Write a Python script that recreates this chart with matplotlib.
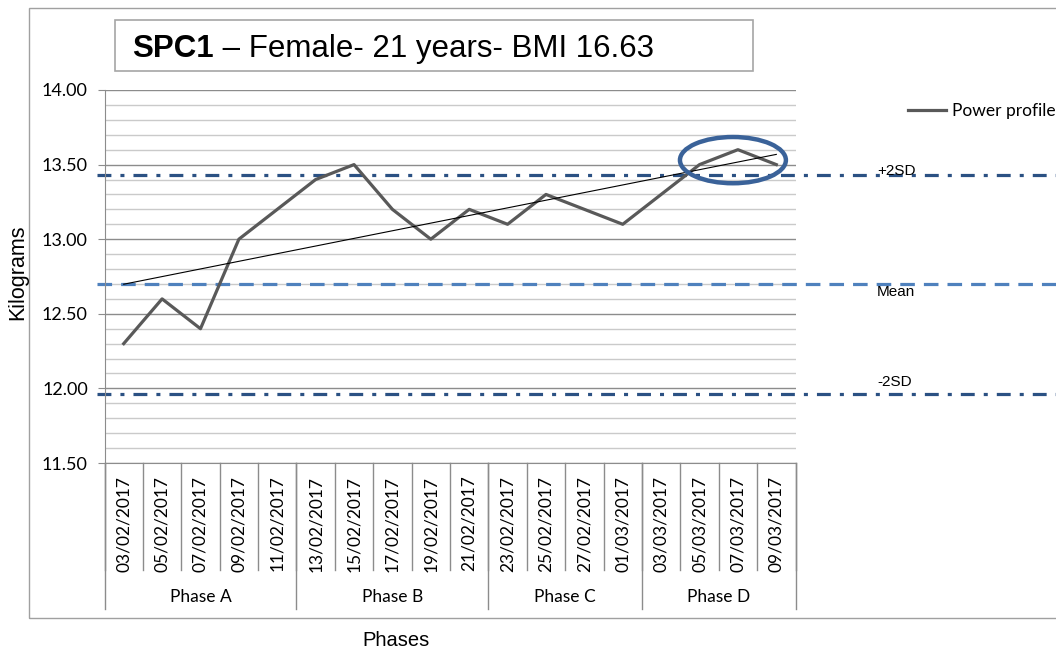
import matplotlib
matplotlib.use("Agg")
import matplotlib.pyplot as plt
import numpy as np
from matplotlib.patches import Rectangle, Ellipse
from matplotlib.lines import Line2D

# data
dates = ["03/02/2017", "05/02/2017", "07/02/2017", "09/02/2017", "11/02/2017",
         "13/02/2017", "15/02/2017", "17/02/2017", "19/02/2017", "21/02/2017",
         "23/02/2017", "25/02/2017", "27/02/2017", "01/03/2017",
         "03/03/2017", "05/03/2017", "07/03/2017", "09/03/2017"]
power = [12.3, 12.6, 12.4, 13.0, 13.2, 13.4, 13.5, 13.2, 13.0, 13.2,
         13.1, 13.3, 13.2, 13.1, 13.3, 13.5, 13.6, 13.5]
phases = ["Phase A", "Phase B", "Phase C", "Phase D"]
phase_sizes = [5, 5, 4, 4]
mean_kg = 12.70
upper_2sd = 13.43
lower_2sd = 11.96
# highlighted region (circled points at the end of phase D)
highlight_center = (15.87, 13.53)
highlight_size = (2.76, 0.31)

plt.rcParams['lines.scale_dashes'] = False
tick_font = 'Lato'
arial = 'Liberation Sans'

W, H = 1056, 654
fig = plt.figure(figsize=(W / 100, H / 100), dpi=100)

# outer chart border
fig.patches.append(Rectangle((29 / W, 1 - 618 / H), 1.2, (618 - 8) / H,
                             transform=fig.transFigure, fill=False,
                             edgecolor='#a0a0a0', linewidth=1.0))

ax_left, ax_right, ax_top, ax_bottom = 104.5, 795.5, 90, 463
ax = fig.add_axes([ax_left / W, 1 - ax_bottom / H,
                   (ax_right - ax_left) / W, (ax_bottom - ax_top) / H])

x = np.arange(len(power))
ax.set_xlim(-0.5, len(power) - 0.5)
ax.set_ylim(11.5, 14.0)

ax.set_yticks(np.arange(11.5, 14.01, 0.5))
ax.set_yticks(np.arange(11.5, 14.01, 0.1), minor=True)
ax.set_yticklabels([f"{v:.2f}" for v in np.arange(11.5, 14.01, 0.5)],
                   fontfamily=tick_font, fontsize=13)
ax.grid(True, which='major', axis='y', color='#8c8c8c', linewidth=1.0)
ax.grid(True, which='minor', axis='y', color='#cacaca', linewidth=1.0)
ax.tick_params(axis='y', which='major', length=5, color='#8c8c8c', pad=7)
ax.tick_params(axis='y', which='minor', length=0)
ax.set_axisbelow(True)

ax.set_xticks(x)
ax.set_xticklabels(dates, rotation=90, fontfamily=tick_font, fontsize=12.5)
ax.tick_params(axis='x', length=0, pad=9)

for side in ['top', 'right']:
    ax.spines[side].set_visible(False)
for side in ['left', 'bottom']:
    ax.spines[side].set_color('#8c8c8c')

# category separators and phase separators below the axis
date_row = (ax_bottom - 570) / (ax_bottom - ax_top)
phase_row = (ax_bottom - 609) / (ax_bottom - ax_top)
bounds = np.cumsum([0] + phase_sizes) - 0.5
for b in np.arange(-0.5, len(power), 1.0):
    ax.axvline(b, ymin=date_row, ymax=0, color='#8c8c8c', linewidth=1.0, clip_on=False)
for b in bounds:
    ax.axvline(b, ymin=phase_row, ymax=0, color='#8c8c8c', linewidth=1.0, clip_on=False)
phase_label_y = (ax_bottom - 597) / (ax_bottom - ax_top)
for name, lo, hi in zip(phases, bounds[:-1], bounds[1:]):
    ax.text((lo + hi) / 2, phase_label_y, name, transform=ax.get_xaxis_transform(),
            ha='center', va='center', fontfamily=tick_font, fontsize=12.5)

# control lines extending past the plot area
xmin_ext = (97 - ax_left) / (ax_right - ax_left)
xmax_ext = (W + 5 - ax_left) / (ax_right - ax_left)
ax.axhline(upper_2sd, xmin=xmin_ext, xmax=xmax_ext, color='#2b5183', linewidth=2.3,
           linestyle=(0, (10, 6.5, 2.9, 6.5)), clip_on=False)
ax.axhline(lower_2sd, xmin=xmin_ext, xmax=xmax_ext, color='#2b5183', linewidth=2.3,
           linestyle=(0, (10, 6.5, 2.9, 6.5)), clip_on=False)
ax.axhline(mean_kg, xmin=xmin_ext, xmax=xmax_ext, color='#4f81bd', linewidth=2.3,
           linestyle=(0, (10.5, 6.5)), clip_on=False)

lab_x = (877 - ax_left) / (ax_right - ax_left)
tr = ax.get_yaxis_transform()
ax.text(lab_x, upper_2sd + 0.03, "+2SD", transform=tr, ha='left', va='center',
        fontfamily=arial, fontsize=11, clip_on=False)
ax.text(lab_x, mean_kg - 0.055, "Mean", transform=tr, ha='left', va='center',
        fontfamily=arial, fontsize=11, clip_on=False)
ax.text(lab_x, lower_2sd + 0.085, "-2SD", transform=tr, ha='left', va='center',
        fontfamily=arial, fontsize=11, clip_on=False)

# series and linear trend
ax.plot(x, power, color='#595959', linewidth=2.3, zorder=4)
slope, intercept = np.polyfit(x, power, 1)
ax.plot(x, slope * x + intercept, color='black', linewidth=0.8, zorder=5)

ax.add_patch(Ellipse(highlight_center, highlight_size[0], highlight_size[1],
                     fill=False, edgecolor='#3a6299', linewidth=3.2, zorder=6))

# legend
handle = Line2D([], [], color='#595959', linewidth=2.3)
fig.legend([handle], ["Power profile"], loc='center left',
           bbox_to_anchor=(908 / W, 1 - 111 / H), bbox_transform=fig.transFigure,
           frameon=False, borderpad=0, borderaxespad=0, handlelength=2.2,
           handletextpad=0.35, prop={'family': tick_font, 'size': 12.5})

# axis titles
fig.text(18 / W, 1 - 272 / H, "Kilograms", rotation=90, ha='center', va='center',
         fontfamily=arial, fontsize=15.5)
fig.text(396 / W, 1 - 640 / H, "Phases", ha='center', va='center',
         fontfamily=arial, fontsize=14.5)

# title box
fig.patches.append(Rectangle((115 / W, 1 - 71 / H), (753 - 115) / W, 51 / H,
                             transform=fig.transFigure, fill=False,
                             edgecolor='#a6a6a6', linewidth=1.2))
t1 = fig.text(132 / W, 1 - 57 / H, "SPC1", fontfamily=arial, fontweight='bold',
              fontsize=22.5, va='baseline', ha='left')
renderer = fig.canvas.get_renderer()
bb = t1.get_window_extent(renderer=renderer)
fig.text(bb.x1 / W, 1 - 57 / H, " \u2013 Female- 21 years- BMI 16.63", fontfamily=arial,
         fontsize=22.5, va='baseline', ha='left')

fig.savefig("out.png", dpi=100)
